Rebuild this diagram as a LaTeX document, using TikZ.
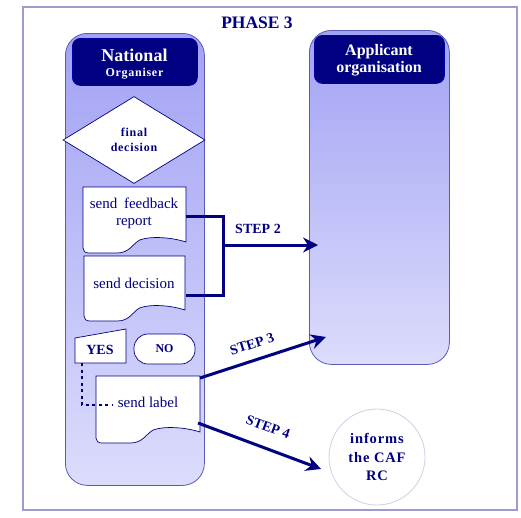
\documentclass[tikz,border=0pt]{standalone}
\usepackage{fontspec}
\setmainfont{Liberation Serif}
\newfontfamily\lsfam[LetterSpace=6]{Liberation Serif}
\usetikzlibrary{shapes.geometric,arrows.meta,calc}
\definecolor{navy}{HTML}{000080}
\definecolor{lanetop}{HTML}{A2A2F5}
\definecolor{lanebot}{HTML}{DCDCFC}
\definecolor{laneborder}{HTML}{5A5AB0}
\definecolor{framecol}{HTML}{9C9CCE}
\definecolor{circcol}{HTML}{CFCFE3}
\tikzset{
 lane/.style={draw=laneborder, line width=0.8pt, rounded corners=22pt, top color=lanetop, bottom color=lanebot, inner sep=0pt},
 header/.style={fill=navy, draw=navy!70!blue, line width=0.8pt, rounded corners=8pt, inner sep=0pt},
 headtext/.style={text=white, align=center, inner sep=0pt},
 shapeline/.style={draw=navy, line width=0.7pt, fill=white},
 doctext/.style={text=navy, font=\fontsize{15}{17}\selectfont, align=center, inner sep=0pt},
 flow/.style={draw=navy, line width=3pt},
 arrow/.style={flow, -{Stealth[length=15pt,width=15pt,inset=5pt]}},
 steplabel/.style={text=navy, font=\bfseries\fontsize{14}{16}\selectfont, inner sep=0pt},
 dots/.style={draw=navy, line width=2.5pt, dash pattern=on 3pt off 3.5pt},
}
\newcommand{\docshape}[4]{%
 \pgfmathsetmacro{\docw}{#3-#1}%
 \draw[shapeline] (#1,#2) -- (#3,#2) -- (#3,#4)
  .. controls ({#3-0.15*\docw},{#4-5}) and ({#1+0.65*\docw},{#4-6}) .. ({#1+0.55*\docw},{#4-2})
  .. controls ({#1+0.48*\docw},{#4+2}) and ({#1+0.45*\docw},{#4+11}) .. ({#1+0.33*\docw},{#4+11})
  -- ({#1+6},{#4+11}) .. controls ({#1+2},{#4+11}) and (#1,{#4+9}) .. (#1,{#4+6}) -- cycle;}
\begin{document}
\begin{tikzpicture}[x=1pt,y=-1pt]
\useasboundingbox (0,0) rectangle (521,517);
\draw[framecol, line width=1.2pt] (23,7) rectangle (517,510);
\node[text=navy, font=\bfseries\fontsize{17.5}{20}\selectfont] (title) at (257,23) {PHASE 3};
% lanes
\node[lane, minimum width=139pt, minimum height=452pt, anchor=north west] (natl) at (65,33) {};
\node[lane, minimum width=140pt, minimum height=334pt, anchor=north west] (appl) at (309,30) {};
\node[header, minimum width=125pt, minimum height=47pt, anchor=north west] (natlH) at (72,38) {};
\node[headtext, font=\bfseries\fontsize{18}{20}\selectfont] (natlT1) at (134.5,55) {National};
\node[headtext, font=\lsfam\bfseries\fontsize{12}{14}\selectfont] (natlT2) at (134.5,74) {Organiser};
\node[header, minimum width=130pt, minimum height=48pt, anchor=north west] (applH) at (314,35) {};
\node[headtext, font=\bfseries\fontsize{16}{17}\selectfont] (applT) at (379,60) {Applicant\\organisation};
% decision
\node[diamond, shapeline, minimum width=142pt, minimum height=87pt, aspect=1.63, inner sep=0pt,
  text=navy, align=center, font=\lsfam\bfseries\fontsize{12}{15}\selectfont] (dec) at (134,140) {final\\decision};
% documents
\docshape{83}{187}{186}{242}
\node[doctext] (fb) at (134,213) {send\hspace{0.45em}feedback\\report};
\docshape{84}{256}{185}{310}
\node[doctext] (sd) at (134,283) {send decision};
\docshape{96}{376}{200}{432}
\node[doctext] (sl) at (148,402) {send label};
% yes / no
\draw[shapeline] (75,338) -- (126,329) -- (126,363) -- (75,363) -- cycle;
\node[text=navy, font=\bfseries\fontsize{14}{16}\selectfont, inner sep=0pt] (yes) at (100,350) {YES};
\node[shapeline, rounded corners=14pt, minimum width=61pt, minimum height=30pt, inner sep=0pt,
  text=navy, font=\bfseries\fontsize{12}{14}\selectfont] (no) at (164.5,349) {NO};
% dotted link
\coordinate (yesB) at (82,363);
\coordinate (dotC) at (82,405);
\coordinate (dotE) at (113,405);
\draw[dots] (yesB) -- (dotC) -- (dotE);
% step 2 bracket
\coordinate (fbR) at (186,216);
\coordinate (bT) at (223,216);
\coordinate (bB) at (223,295);
\coordinate (sdR) at (186,295);
\coordinate (j) at (223,245);
\coordinate (t2) at (318,245);
\draw[flow] (fbR) -- (bT) -- (bB) -- (sdR);
\draw[arrow] (j) -- (t2);
\node[steplabel] (st2) at (258,229) {STEP 2};
% step 3
\coordinate (s3a) at (200,378);
\coordinate (s3b) at (326,337);
\draw[arrow] (s3a) -- (s3b);
\node[steplabel, rotate=17] (st3) at (252,344) {STEP 3};
% step 4
\node[circle, draw=circcol, line width=0.8pt, fill=white, minimum size=96pt, inner sep=0pt,
  text=navy, align=center, font=\lsfam\bfseries\fontsize{14.5}{18.5}\selectfont] (caf) at (377,457) {informs\\the CAF\\RC};
\coordinate (s4a) at (198,423);
\coordinate (s4b) at (321,469);
\draw[arrow] (s4a) -- (s4b);
\node[steplabel, rotate=-20] (st4) at (268,427) {STEP 4};
\end{tikzpicture}
\end{document}
